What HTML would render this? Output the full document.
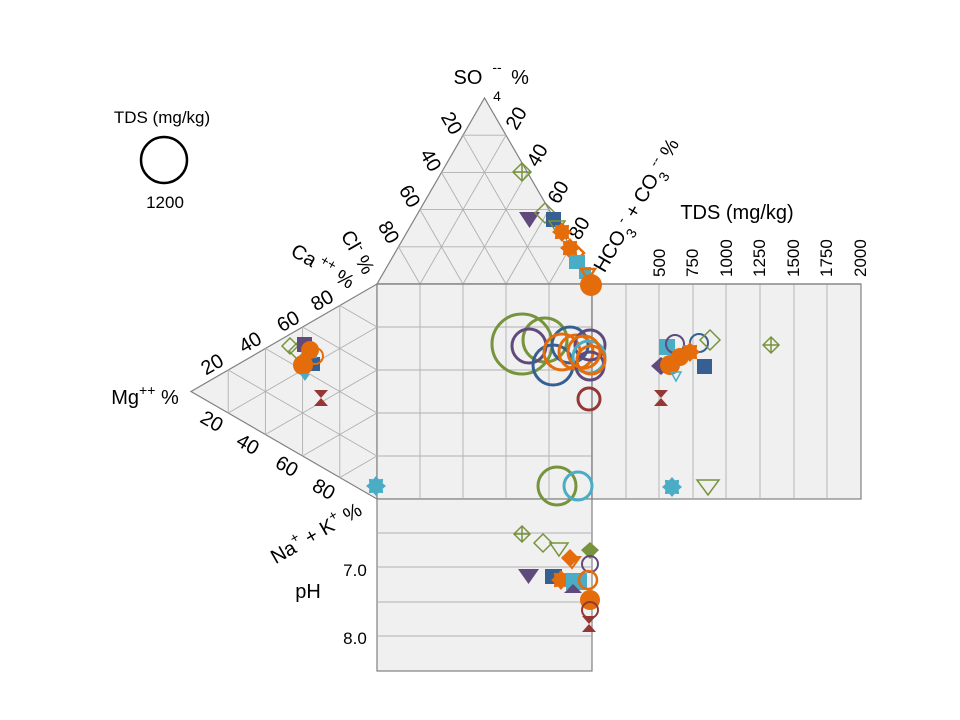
<!DOCTYPE html>
<html><head><meta charset="utf-8"><style>
body{margin:0;background:#fff}
svg{display:block;font-family:"Liberation Sans",sans-serif}
</style></head><body>
<svg width="960" height="720" viewBox="0 0 960 720" xmlns="http://www.w3.org/2000/svg">
<defs>
<g id="sun"><polygon points="0,-10 2.8,-6.7 7.1,-7.1 6.7,-2.8 10,0 6.7,2.8 7.1,7.1 2.8,6.7 0,10 -2.8,6.7 -7.1,7.1 -6.7,2.8 -10,0 -6.7,-2.8 -7.1,-7.1 -2.8,-6.7"/></g>
</defs>
<g fill="#f0f0f0" stroke="#808080" stroke-width="1.2">
<polygon points="377,284 592,284 484.5,98"/>
<polygon points="377,284 377,499 191,391.5"/>
<rect x="377" y="284" width="215" height="215"/>
<rect x="592" y="284" width="269" height="215"/>
<rect x="377" y="499" width="215" height="172"/>
</g>
<g stroke="#b0b0b0" stroke-width="0.9" fill="none">
<path d="M398.5,246.8H570.5M420,209.6H549M441.5,172.4H527.5M463,135.2H506"/>
<path d="M420,284L506,135.2M463,284L527.5,172.4M506,284L549,209.6M549,284L570.5,246.8"/>
<path d="M420,284L398.5,246.8M463,284L420,209.6M506,284L441.5,172.4M549,284L463,135.2"/>
<path d="M339.8,305.5V477.5M302.6,327V456M265.4,348.5V434.5M228.2,370V413"/>
<path d="M377,327L228.2,413M377,370L265.4,434.5M377,413L302.6,456M377,456L339.8,477.5"/>
<path d="M377,327L339.8,305.5M377,370L302.6,327M377,413L265.4,348.5M377,456L228.2,370"/>
<path d="M420,284V499M463,284V499M506,284V499M549,284V499M377,327H592M377,370H592M377,413H592M377,456H592"/>
<path d="M626,284V499M659,284V499M693,284V499M726,284V499M760,284V499M794,284V499M827,284V499"/>
<path d="M377,533H592M377,567H592M377,602H592M377,636H592"/>
</g>
<g stroke="#808080" stroke-width="1.2" fill="none">
<path d="M377,284H592V499M592,284H861"/>
</g>
<g font-size="20" fill="#000" text-anchor="middle">
<text x="468" y="84">SO</text>
<text x="497" y="72" font-size="14">--</text>
<text x="497" y="101" font-size="14">4</text>
<text x="520" y="84">%</text>
<text transform="translate(452,123) rotate(60)" dy="7">20</text>
<text transform="translate(431,160) rotate(60)" dy="7">40</text>
<text transform="translate(410,196) rotate(60)" dy="7">60</text>
<text transform="translate(389,232) rotate(60)" dy="7">80</text>
<text transform="translate(516,118) rotate(-60)" dy="7">20</text>
<text transform="translate(537,155) rotate(-60)" dy="7">40</text>
<text transform="translate(558,192) rotate(-60)" dy="7">60</text>
<text transform="translate(579,228) rotate(-60)" dy="7">80</text>
<text transform="translate(636,205) rotate(-60)" dy="7">HCO<tspan font-size="14" dy="8">3</tspan><tspan font-size="14" dy="-16">-</tspan><tspan dy="8"> + CO</tspan><tspan font-size="14" dy="8">3</tspan><tspan font-size="14" dy="-16">--</tspan><tspan dy="8"> %</tspan></text>
<text transform="translate(358,252) rotate(60)" dy="7">Cl<tspan font-size="14" dy="-8">-</tspan><tspan dy="8"> %</tspan></text>
<text transform="translate(323,266) rotate(30)" dy="7">Ca<tspan font-size="14" dy="-8"> ++</tspan><tspan dy="8"> %</tspan></text>
<text transform="translate(322,300) rotate(-30)" dy="7">80</text>
<text transform="translate(288,321) rotate(-30)" dy="7">60</text>
<text transform="translate(250,342) rotate(-30)" dy="7">40</text>
<text transform="translate(212,364) rotate(-30)" dy="7">20</text>
<text transform="translate(212,421) rotate(30)" dy="7">20</text>
<text transform="translate(248,444) rotate(30)" dy="7">40</text>
<text transform="translate(287,466) rotate(30)" dy="7">60</text>
<text transform="translate(324,489) rotate(30)" dy="7">80</text>
<text x="145" y="404">Mg<tspan font-size="14" dy="-9">++</tspan><tspan dy="9"> %</tspan></text>
<text transform="translate(316,533) rotate(-30)" dy="7">Na<tspan font-size="14" dy="-9">+</tspan><tspan dy="9"> + K</tspan><tspan font-size="14" dy="-9">+</tspan><tspan dy="9"> %</tspan></text>
<text x="308" y="598">pH</text>
<text x="737" y="219">TDS (mg/kg)</text>
</g>
<g font-size="17" fill="#000" text-anchor="middle">
<text x="355" y="576">7.0</text>
<text x="355" y="644">8.0</text>
<text x="162" y="123">TDS (mg/kg)</text>
<text x="165" y="208">1200</text>
<g text-anchor="start">
<text transform="translate(665,277) rotate(-90)">500</text>
<text transform="translate(698,277) rotate(-90)">750</text>
<text transform="translate(732,277) rotate(-90)">1000</text>
<text transform="translate(765,277) rotate(-90)">1250</text>
<text transform="translate(799,277) rotate(-90)">1500</text>
<text transform="translate(832,277) rotate(-90)">1750</text>
<text transform="translate(866,277) rotate(-90)">2000</text>
</g>
</g>
<circle cx="164" cy="160" r="23" fill="none" stroke="#000" stroke-width="2.5"/>
<g fill="none" stroke-width="3">
<circle cx="522" cy="344" r="30" stroke="#77933c"/>
<circle cx="545" cy="340" r="22" stroke="#77933c"/>
<circle cx="529" cy="346" r="17" stroke="#604a7b"/>
<circle cx="553" cy="365" r="20" stroke="#376092"/>
<circle cx="570" cy="345" r="18" stroke="#376092"/>
<circle cx="562" cy="352" r="18" stroke="#e46c0a"/>
<circle cx="576" cy="352" r="17" stroke="#e46c0a"/>
<circle cx="590" cy="345" r="15" stroke="#604a7b"/>
<circle cx="589" cy="357" r="16" stroke="#4bacc6"/>
<circle cx="590" cy="366" r="14" stroke="#604a7b"/>
<circle cx="584" cy="352" r="16" stroke="#e46c0a"/>
<circle cx="591" cy="360" r="14" stroke="#e46c0a"/>
<circle cx="589" cy="399" r="11" stroke="#953735"/>
<circle cx="557" cy="486" r="19" stroke="#77933c"/>
<circle cx="578" cy="486" r="14" stroke="#4bacc6"/>
</g>
<g stroke-width="1.5">
<path d="M522,163l9,9-9,9-9-9z M513,172h18M522,163v18" fill="none" stroke="#77933c"/>
<path d="M519,212h21l-10.5,16z" fill="#604a7b"/>
<path d="M545,203l10,10-10,10-10-10z" fill="none" stroke="#77933c"/>
<rect x="546" y="212" width="15" height="15" fill="#376092"/>
<path d="M549,221h16l-8,12z" fill="none" stroke="#77933c"/>
<use href="#sun" x="562" y="232" fill="#e46c0a"/>
<use href="#sun" x="570" y="248" fill="#e46c0a"/>
<path d="M566,253l9,-9 9,9-9,9z" fill="none" stroke="#e46c0a" stroke-width="2.5"/>
<rect x="569" y="255" width="16" height="14" fill="#4bacc6"/>
<rect x="579" y="267" width="12" height="12" fill="#4bacc6"/>
<path d="M581,269h14l-7,11z" fill="none" stroke="#e46c0a" stroke-width="2.5"/>
<circle cx="591" cy="285" r="11" fill="#e46c0a"/>
</g>
<g stroke-width="1.5">
<path d="M290,338l8,8-8,8-8-8z" fill="none" stroke="#77933c"/>
<path d="M297,343l8,8-8,8-8-8z" fill="none" stroke="#77933c"/>
<rect x="297" y="337" width="15" height="15" fill="#604a7b"/>
<rect x="306" y="357" width="14" height="14" fill="#376092"/>
<rect x="304" y="345" width="13" height="13" fill="#4bacc6"/>
<circle cx="310" cy="350" r="9" fill="#e46c0a"/>
<circle cx="315" cy="356" r="8" fill="none" stroke="#e46c0a" stroke-width="2"/>
<circle cx="303" cy="365" r="10" fill="#e46c0a"/>
<path d="M300,374h10l-5,7z" fill="#4bacc6"/>
<path d="M314,390h14l-7,8 7,8h-14l7,-8z" fill="#953735"/>
<use href="#sun" x="376" y="486" fill="#4bacc6"/>
</g>
<g stroke-width="1.5">
<rect x="659" y="339" width="16" height="16" fill="#4bacc6"/>
<circle cx="675" cy="344" r="9" fill="none" stroke="#604a7b" stroke-width="2"/>
<circle cx="699" cy="343" r="9" fill="none" stroke="#376092" stroke-width="2"/>
<path d="M710,330l10,10-10,10-10-10z" fill="none" stroke="#77933c"/>
<path d="M771,337l8,8-8,8-8-8z M763,345h16M771,337v16" fill="none" stroke="#77933c"/>
<path d="M661,357l10,9-10,9-10-9z" fill="#604a7b"/>
<rect x="697" y="359" width="15" height="15" fill="#376092"/>
<circle cx="670" cy="365" r="10" fill="#e46c0a"/>
<circle cx="680" cy="357" r="9" fill="#e46c0a"/>
<use href="#sun" x="690" y="352" fill="#e46c0a"/>
<path d="M671,372h10l-5,9z" fill="none" stroke="#4bacc6"/>
<path d="M654,390h14l-7,8 7,8h-14l7,-8z" fill="#953735"/>
<use href="#sun" x="672" y="487" fill="#4bacc6"/>
<path d="M697,480h22l-11,15z" fill="none" stroke="#77933c"/>
</g>
<g stroke-width="1.5">
<path d="M522,526l8,8-8,8-8-8z M514,534h16M522,526v16" fill="none" stroke="#77933c"/>
<path d="M543,534l9,9-9,9-9-9z" fill="none" stroke="#77933c"/>
<path d="M550,543h18l-9,13z" fill="none" stroke="#77933c"/>
<path d="M590,542l9,8-9,9-9-9z" fill="#77933c"/>
<path d="M570,549l9,9-9,9-9-9z" fill="#e46c0a"/>
<path d="M564,557h16l-8,11z" fill="none" stroke="#e46c0a" stroke-width="2"/>
<path d="M518,569h21l-10.5,15z" fill="#604a7b"/>
<rect x="545" y="569" width="17" height="15" fill="#376092"/>
<use href="#sun" x="561" y="580" fill="#e46c0a"/>
<circle cx="590" cy="564" r="8" fill="none" stroke="#604a7b" stroke-width="2"/>
<rect x="566" y="573" width="21" height="17" fill="#4bacc6"/>
<path d="M564,593h18l-9,-9z" fill="#604a7b"/>
<circle cx="588" cy="580" r="9" fill="none" stroke="#e46c0a" stroke-width="2.5"/>
<circle cx="590" cy="600" r="10" fill="#e46c0a"/>
<circle cx="590" cy="610" r="8" fill="none" stroke="#953735" stroke-width="2"/>
<path d="M582,616h14l-7,8 7,8h-14l7,-8z" fill="#953735"/>
</g>
</svg>
</body></html>
